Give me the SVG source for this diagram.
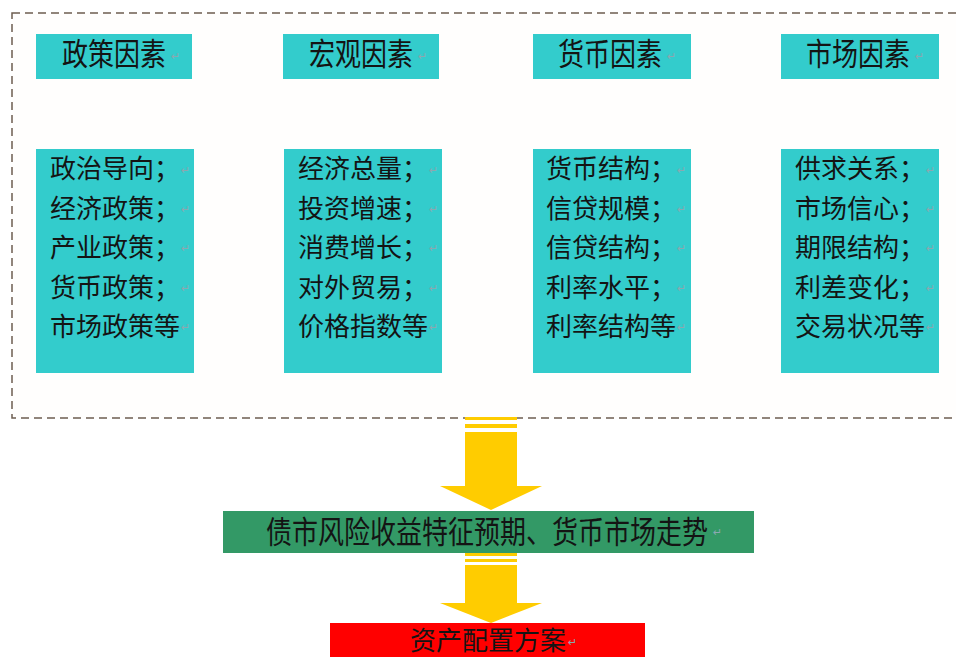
<svg xmlns="http://www.w3.org/2000/svg" width="956" height="657" viewBox="0 0 956 657">
<style>
.t{font-family:"Noto Sans CJK SC","Noto Sans",sans-serif;font-size:26px;fill:#141414}
.h{text-anchor:middle}
.box{fill:#33cccc}
.pm{font-family:"DejaVu Sans",sans-serif;font-size:11px;fill:#8aa8b0}
.arrow{fill:#ffcc00}
</style>
<rect width="956" height="657" fill="#ffffff"/>
<rect id="frame" x="12" y="13" width="950" height="405" fill="#fffefd" stroke="#6e5e50" stroke-width="1.5" stroke-dasharray="8 5"/>

<g id="h1"><rect class="box" x="36" y="34" width="156" height="45"/><text class="t h" transform="translate(114,64.5) scale(1,1.2)">政策因素</text><text class="pm" x="171" y="60">↵</text></g>
<g id="h2"><rect class="box" x="283" y="34" width="156" height="45"/><text class="t h" transform="translate(361,64.5) scale(1,1.2)">宏观因素</text><text class="pm" x="418" y="60">↵</text></g>
<g id="h3"><rect class="box" x="533" y="34" width="158" height="45"/><text class="t h" transform="translate(610,64.5) scale(1,1.2)">货币因素</text><text class="pm" x="667" y="60">↵</text></g>
<g id="h4"><rect class="box" x="781" y="34" width="158" height="45"/><text class="t h" transform="translate(858,64.5) scale(1,1.2)">市场因素</text><text class="pm" x="915" y="60">↵</text></g>

<g id="c1"><rect class="box" x="36" y="149" width="158" height="224"/>
<text class="t" x="50" y="178">政治导向；</text><text class="t" x="50" y="217.5">经济政策；</text><text class="t" x="50" y="257">产业政策；</text><text class="t" x="50" y="296.5">货币政策；</text><text class="t" x="50" y="336">市场政策等</text>
<g class="pm"><text x="181" y="174">↵</text><text x="181" y="213">↵</text><text x="181" y="252">↵</text><text x="181" y="292">↵</text><text x="181" y="331">↵</text></g></g>

<g id="c2"><rect class="box" x="284" y="149" width="158" height="224"/>
<text class="t" x="298" y="178">经济总量；</text><text class="t" x="298" y="217.5">投资增速；</text><text class="t" x="298" y="257">消费增长；</text><text class="t" x="298" y="296.5">对外贸易；</text><text class="t" x="298" y="336">价格指数等</text>
<g class="pm"><text x="429" y="174">↵</text><text x="429" y="213">↵</text><text x="429" y="252">↵</text><text x="429" y="292">↵</text><text x="429" y="331">↵</text></g></g>

<g id="c3"><rect class="box" x="533" y="149" width="158" height="224"/>
<text class="t" x="546" y="178">货币结构；</text><text class="t" x="546" y="217.5">信贷规模；</text><text class="t" x="546" y="257">信贷结构；</text><text class="t" x="546" y="296.5">利率水平；</text><text class="t" x="546" y="336">利率结构等</text>
<g class="pm"><text x="677" y="174">↵</text><text x="677" y="213">↵</text><text x="677" y="252">↵</text><text x="677" y="292">↵</text><text x="677" y="331">↵</text></g></g>

<g id="c4"><rect class="box" x="781" y="149" width="158" height="224"/>
<text class="t" x="795" y="178">供求关系；</text><text class="t" x="795" y="217.5">市场信心；</text><text class="t" x="795" y="257">期限结构；</text><text class="t" x="795" y="296.5">利差变化；</text><text class="t" x="795" y="336">交易状况等</text>
<g class="pm"><text x="926" y="174">↵</text><text x="926" y="213">↵</text><text x="926" y="252">↵</text><text x="926" y="292">↵</text><text x="926" y="331">↵</text></g></g>

<g id="connectors">
<g class="arrow">
<rect x="465" y="417" width="52" height="3"/>
<rect x="465" y="424" width="52" height="4"/>
<rect x="465" y="432" width="52" height="55"/>
<polygon points="440,486 542,486 491,510"/>
<rect x="465" y="553" width="52" height="3"/>
<rect x="465" y="559" width="52" height="3"/>
<rect x="465" y="565" width="52" height="39"/>
<polygon points="440,603 542,603 491,623"/>
</g>
</g>

<g id="n_expect"><rect x="223" y="511" width="531" height="42" fill="#339966"/><text class="t h" transform="translate(487,542.5) scale(1,1.2)">债市风险收益特征预期、货币市场走势</text><text class="pm" x="713" y="536">↵</text></g>

<g id="n_plan"><rect x="330" y="623" width="315" height="40" fill="#ff0000"/><text class="t h" fill="#2a0000" x="488" y="650">资产配置方案</text><text class="pm" x="568" y="646">↵</text></g>
</svg>
